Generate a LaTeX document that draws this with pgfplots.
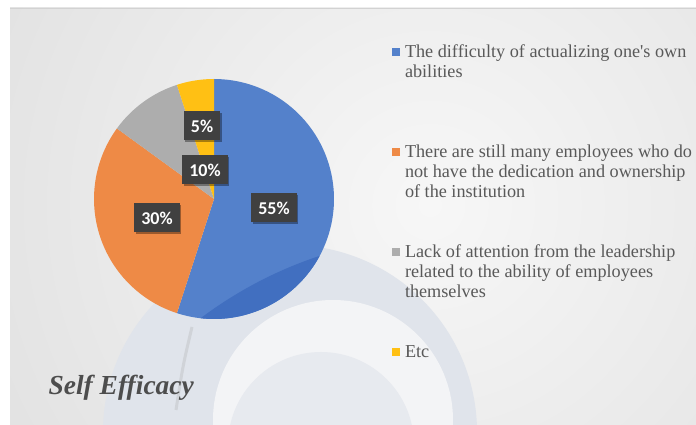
\documentclass[border=0pt]{standalone}
\usepackage{pgfplots}
\pgfplotsset{compat=1.18}
\usepackage{fontspec}
\setmainfont{Liberation Serif}[Ligatures=TeXOff]
\newfontfamily\labelfont{Carlito}
\usetikzlibrary{shadows}
\definecolor{pieblue}{HTML}{5481CB}
\definecolor{pieorange}{HTML}{EE8A46}
\definecolor{piegray}{HTML}{ADADAD}
\definecolor{pieyellow}{HTML}{FFC014}
\definecolor{piedark}{HTML}{416FC0}
\definecolor{labelbg}{HTML}{404040}
\definecolor{legtext}{HTML}{595959}
\definecolor{titlecol}{HTML}{4D4D4D}
\definecolor{bgdark}{HTML}{D2D2D2}
\definecolor{bglight}{HTML}{F7F7F7}
\definecolor{band}{HTML}{E0E4EB}
\definecolor{innerw}{HTML}{F3F4F6}
\definecolor{innerb}{HTML}{E7EAEF}
\definecolor{sliver}{HTML}{D0D3D8}

% shares (percent)
\def\vA{55}\def\vB{30}\def\vC{10}\def\vD{5}
\def\cx{214}\def\cy{226}\def\R{120}
\pgfmathsetmacro\aA{90}
\pgfmathsetmacro\aB{90-3.6*\vA}
\pgfmathsetmacro\aC{\aB-3.6*\vB}
\pgfmathsetmacro\aD{\aC-3.6*\vC}
\pgfmathsetmacro\aE{\aD-3.6*\vD}

\begin{document}
\begin{tikzpicture}
\fill[white] (0,0) rectangle (696bp,425bp);
\begin{scope}
\clip (10bp,0) rectangle (696bp,417bp);
\fill[bgdark] (10bp,0) rectangle (696bp,417bp);
\shade[inner color=bglight, outer color=bgdark] (430bp,220bp) circle (860bp);
\fill[band] (290bp,-7bp) circle (187bp);
\fill[innerw] (333bp,5bp) circle (120bp);
\fill[innerb] (321bp,-20bp) circle (93bp);
\draw[sliver, line width=3bp] (192bp,98bp) .. controls (183bp,60bp) .. (176bp,15bp);
\end{scope}
\draw[gray!35, line width=0.6bp] (10bp,417bp) -- (696bp,417bp);

\begin{axis}[
  at={(0,0)}, anchor=south west,
  width=696bp, height=425bp, scale only axis,
  xmin=0, xmax=696, ymin=0, ymax=425,
  hide axis, clip=false,
  legend image code/.code={\fill[#1,draw=none] (0bp,2bp) rectangle (8bp,10bp);},
  legend style={
    at={(axis cs:392,380)}, anchor=north west,
    draw=none, fill=none, inner sep=0pt, outer sep=0pt,
    row sep=0pt,
    font=\fontsize{18.2bp}{20bp}\selectfont,
    cells={anchor=base west},
    nodes={inner sep=0pt, text height=13bp, text depth=7bp, text=legtext},
    /tikz/every odd column/.append style={column sep=5bp},
  },
]
\addplot[fill=pieblue, draw=none, domain=\aB:\aA, samples=90]
  ({\cx+\R*cos(x)},{\cy+\R*sin(x)}) -- (axis cs:\cx,\cy) -- cycle;
\addlegendentry{The difficulty of actualizing one's own}
\addlegendimage{empty legend}\addlegendentry{abilities}
\addlegendimage{empty legend}\addlegendentry{\mbox{}}
\addlegendimage{empty legend}\addlegendentry{\mbox{}}
\addlegendimage{empty legend}\addlegendentry{\mbox{}}

\addplot[fill=pieorange, draw=none, domain=\aC:\aB, samples=60]
  ({\cx+\R*cos(x)},{\cy+\R*sin(x)}) -- (axis cs:\cx,\cy) -- cycle;
\addlegendentry{There are still many employees who do}
\addlegendimage{empty legend}\addlegendentry{not have the dedication and ownership}
\addlegendimage{empty legend}\addlegendentry{of the institution}
\addlegendimage{empty legend}\addlegendentry{\mbox{}}
\addlegendimage{empty legend}\addlegendentry{\mbox{}}

\addplot[fill=piegray, draw=none, domain=\aD:\aC, samples=30]
  ({\cx+\R*cos(x)},{\cy+\R*sin(x)}) -- (axis cs:\cx,\cy) -- cycle;
\addlegendentry{Lack of attention from the leadership}
\addlegendimage{empty legend}\addlegendentry{related to the ability of employees}
\addlegendimage{empty legend}\addlegendentry{themselves}
\addlegendimage{empty legend}\addlegendentry{\mbox{}}
\addlegendimage{empty legend}\addlegendentry{\mbox{}}

\addplot[fill=pieyellow, draw=none, domain=\aE:\aD, samples=20]
  ({\cx+\R*cos(x)},{\cy+\R*sin(x)}) -- (axis cs:\cx,\cy) -- cycle;
\addlegendentry{Etc}

\node[anchor=base west, text=titlecol, font=\bfseries\itshape\fontsize{27.5bp}{30bp}\selectfont]
  at (axis cs:45,31) {Self Efficacy};
\end{axis}

\begin{scope}
\clip (214bp,226bp) circle (120bp);
\fill[piedark] (450bp,-225bp) circle (415bp);
\end{scope}

\begin{axis}[
  at={(0,0)}, anchor=south west,
  width=696bp, height=425bp, scale only axis,
  xmin=0, xmax=696, ymin=0, ymax=425,
  hide axis, clip=false,
]
\addplot[forget plot, draw=none, mark=none, nodes near coords={\pgfplotspointmeta\%},
  point meta=explicit symbolic,
  every node near coord/.append style={anchor=center, fill=labelbg, text=white,
    font=\labelfont\bfseries\fontsize{18bp}{18bp}\selectfont,
    inner xsep=7bp, inner ysep=0pt, minimum height=29bp,
    drop shadow={shadow xshift=1.5bp, shadow yshift=-1.5bp, opacity=0.35, fill=black}}]
  coordinates {(274,217) [55] (157,207) [30] (205,255) [10] (202,299) [5]};
\end{axis}
\pgfresetboundingbox
\useasboundingbox (0,0) rectangle (696bp,425bp);
\end{tikzpicture}
\end{document}
